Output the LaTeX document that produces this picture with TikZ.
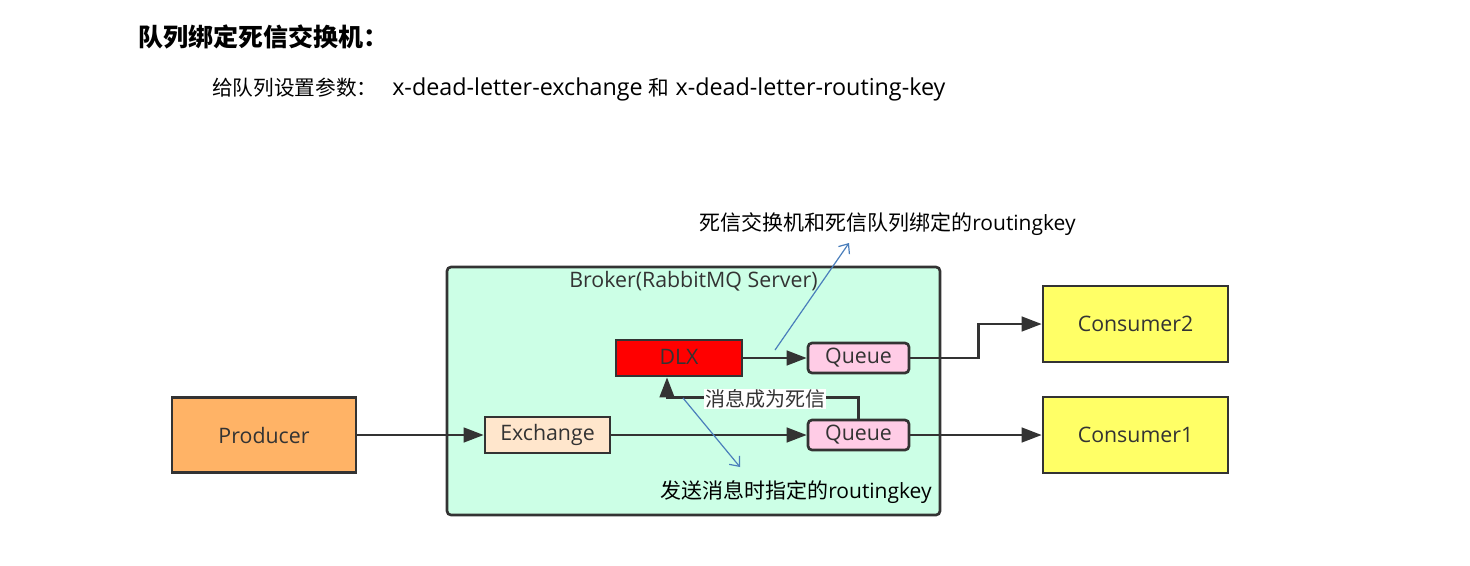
\documentclass[tikz,border=0pt]{standalone}
\usepackage{fontspec}
\setmainfont{Open Sans}
\newfontfamily\cjk{Noto Sans CJK SC}
\usetikzlibrary{arrows.meta}
\definecolor{linegray}{HTML}{333333}
\definecolor{brokerfill}{HTML}{CCFFE6}
\definecolor{prodfill}{HTML}{FFB366}
\definecolor{exchfill}{HTML}{FFE6CC}
\definecolor{queuefill}{HTML}{FFCCE6}
\definecolor{consfill}{HTML}{FFFF66}
\definecolor{noteblue}{HTML}{4A7EBB}
\newcommand{\cjksub}[1]{{\cjk\fontsize{15.5}{18}\selectfont #1}}
\tikzset{
  box/.style={draw=linegray, line width=2pt, text=linegray, inner sep=0pt,
    font=\fontsize{16}{18}\selectfont},
  flow/.style={draw=linegray, line width=1.8pt, -{Triangle[length=15pt,width=11pt]}},
  note/.style={draw=noteblue, line width=0.9pt, -{Straight Barb[length=6pt,width=10pt]}},
  txt/.style={inner sep=0pt, anchor=west, font=\fontsize{15.75}{18}\selectfont},
}

\begin{document}
\begin{tikzpicture}[x=0.75pt,y=0.75pt,yscale=-1,xscale=1]
        \useasboundingbox (0,0) rectangle (1470,565);
        % Text Node
        \node[txt, font=\fontsize{18.75}{20}\selectfont] (title) at (138,37) {\cjk\bfseries 队列绑定死信交换机：};
        % Text Node
        \node[txt, font=\fontsize{17.5}{20}\selectfont] (params) at (212,89) {\cjksub{给队列设置参数：}\hspace{11pt}x-dead-letter-exchange \cjksub{和} x-dead-letter-routing-key};
        %Shape: Rectangle [broker]
        \node[box, fill=brokerfill, rounded corners=3pt, minimum width=369.75pt, minimum height=186pt] (broker) at (693.5,391) {};
        % Text Node
        \node[text=linegray, inner sep=0pt, anchor=north, font=\fontsize{16}{18}\selectfont] (brokertxt) at ([yshift=4pt]broker.north) {Broker(RabbitMQ Server)};
        %Shape: Rectangle
        \node[box, fill=prodfill, minimum width=138pt, minimum height=56.25pt] (producer) at (264,435) {Producer};
        \node[box, fill=exchfill, minimum width=93.75pt, minimum height=27pt] (exchange) at (547.5,435) {\raisebox{2pt}{Exchange}};
        \node[box, fill=red, minimum width=94.5pt, minimum height=27pt] (dlx) at (679,358) {\raisebox{2pt}{DLX}};
        \node[box, fill=queuefill, rounded corners=3pt, minimum width=75.75pt, minimum height=22.5pt] (q2) at (858.5,358) {Queue};
        \node[box, fill=queuefill, rounded corners=3pt, minimum width=75.75pt, minimum height=22.5pt] (q1) at (858.5,435) {Queue};
        \node[box, fill=consfill, minimum width=138.75pt, minimum height=57pt] (consumer2) at (1135.5,324) {Consumer2};
        \node[box, fill=consfill, minimum width=138.75pt, minimum height=57pt] (consumer1) at (1135.5,435) {Consumer1};
        %Straight Lines
        \draw[flow] (producer) -- (exchange);
        \draw[flow] (exchange) -- (q1);
        \draw[flow] (dlx) -- (q2);
        \draw[flow] (q2.east) -- ++(68,0) |- (consumer2.west);
        \draw[flow] (q1) -- (consumer1);
        \draw[flow] (q1.north) -- ++(0,-21) -| ([xshift=-9pt]dlx.south);
        % Text Node
        \node[txt, anchor=center, fill=white, inner sep=0.5pt, text=linegray, font=\fontsize{15}{18}\selectfont] (deadtxt) at (765,399) {\cjk 消息成为死信};
        %Straight Lines (routing key notes)
        \coordinate (bind0) at (775,350);
        \coordinate (bind1) at (849,243);
        \draw[note] (bind0) -- (bind1);
        \coordinate (send0) at (683,398);
        \coordinate (send1) at (740,467);
        \draw[note] (send0) -- (send1);
        % Text Node
        \node[txt] (bindtxt) at (699,224) {{\cjk 死信交换机和死信队列绑定的}routingkey};
        % Text Node
        \node[txt] (sendtxt) at (660,492) {{\cjk 发送消息时指定的}routingkey};
\end{tikzpicture}
\end{document}
